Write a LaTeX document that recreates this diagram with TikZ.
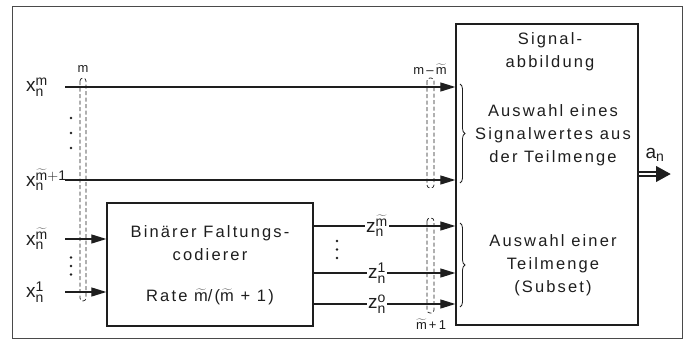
\documentclass[tikz,border=0pt]{standalone}
\usepackage{fontspec}
\setmainfont{Liberation Sans}
\newfontfamily\spacedfont{Liberation Sans}[LetterSpace=13]
\DeclareMathSizes{19}{19}{14}{10}
\usetikzlibrary{arrows.meta,positioning,calc,decorations.pathreplacing}
\definecolor{PrintInk}{HTML}{1E1E1E}
\definecolor{FrameGray}{HTML}{4A4A4A}
\newcommand{\mtl}{\ensuremath{\widetilde{\mathrm{m}}}}

\begin{document}
\begin{tikzpicture}[x=1pt, y=-1pt,
  block/.style={draw=PrintInk, line width=1.3pt, inner sep=0pt},
  txt/.style={align=center, text=PrintInk, inner sep=0pt,
    font=\spacedfont\fontsize{16.5}{23}\selectfont},
  varlabel/.style={text=PrintInk, inner sep=1pt, font=\fontsize{19}{19}\selectfont},
  countlabel/.style={text=PrintInk, inner sep=0pt, font=\fontsize{13}{13}\selectfont},
  sigline/.style={draw=PrintInk, line width=1.2pt, -{Triangle[length=15pt,width=9pt]}},
  plainline/.style={draw=PrintInk, line width=1.2pt},
  bundle/.style={draw=PrintInk, dashed, dash pattern=on 4pt off 2.5pt, line width=0.7pt, rounded corners=3pt},
  bracket/.style={draw=PrintInk, line width=0.8pt, decorate, decoration={brace, amplitude=5pt}}]

\useasboundingbox (0,0) rectangle (688,343);
% outer frame
\draw[FrameGray, line width=1pt] (12,6) rectangle (682,338);

% blocks
\node[block, minimum width=182pt, minimum height=301pt] (sig) at (547,174.5) {};
\node[block, minimum width=206pt, minimum height=123pt] (coder) at (210,264.5) {};

\node[txt] (sigtitle) at (550,52) {Signal-\\abbildung};
\node[txt] (sigsel) at (553,135) {Auswahl eines\\Signalwertes aus\\der Teilmenge};
\node[txt] (subsel) at (553,265.5) {Auswahl einer\\Teilmenge\\(Subset)};
\node[txt] (codtitle) at (210,243.5) {Binärer Faltungs-\\codierer};
\node[txt] (rate) at (210,297) {Rate \mtl/(\mtl\ + 1)};

% uncoded inputs
\coordinate (inM) at (65,87);
\coordinate (inMa) at (65,180);
\coordinate (inMt) at (65,239);
\coordinate (inOne) at (65,292);
\node[varlabel, anchor=west] (xm) at (25,87) {x$^{\mathrm{m}}_{\mathrm{n}}$};
\node[varlabel, anchor=west] (xma) at (25,180) {x$^{\mtl\mathrm{+1}}_{\mathrm{n}}$};
\node[varlabel, anchor=west] (xmt) at (25,239) {x$^{\mtl}_{\mathrm{n}}$};
\node[varlabel, anchor=west] (xone) at (25,292) {x$^{\mathrm{1}}_{\mathrm{n}}$};
\draw[sigline] (inM) -- (inM -| sig.west);
\draw[sigline] (inMa) -- (inMa -| sig.west);
\draw[sigline] (inMt) -- (inMt -| coder.west);
\draw[sigline] (inOne) -- (inOne -| coder.west);

% coded outputs
\node[varlabel] (zmt) at (377,226) {z$^{\mtl}_{\mathrm{n}}$};
\node[varlabel] (zone) at (377,273) {z$^{\mathrm{1}}_{\mathrm{n}}$};
\node[varlabel] (zzero) at (377,304) {z$^{\mathrm{o}}_{\mathrm{n}}$};
\foreach \z/\y in {zmt/226, zone/273, zzero/304}{
  \draw[plainline] (coder.east |- 0,\y) -- (\z.west |- 0,\y);
  \draw[sigline] (\z.east |- 0,\y) -- (sig.west |- 0,\y);
}

% dots
\foreach \y in {118,133,148}{\fill[PrintInk] (71,\y) circle (1.4pt);}
\foreach \y in {257.5,266,274.5}{\fill[PrintInk] (71,\y) circle (1.4pt);}
\foreach \y in {241,249.5,258}{\fill[PrintInk] (337,\y) circle (1.4pt);}

% line bundles
\draw[bundle] (80,78) rectangle (86,301);
\draw[bundle] (427,78) rectangle (434,188);
\draw[bundle] (427,218) rectangle (434,313);
\node[countlabel] (cntm) at (83,69) {m};
\node[countlabel] (cntdiff) at (430,69) {m\,--\,\mtl};
\node[countlabel] (cntcoded) at (431,324) {\mtl\,+\,1};

% braces
\draw[bracket] (460,84) -- (460,183);
\draw[bracket] (460,223) -- (460,307);

% output
\coordinate (aout) at (671,174);
\draw[PrintInk, line width=6pt, -{Triangle[length=15pt,width=15pt]}] (sig.east |- aout) -- (aout);
\draw[white, line width=2.4pt] ([xshift=0.8pt]sig.east |- aout) -- ([xshift=-15pt]aout);
\node[varlabel] (an) at (655,155) {a$_{\mathrm{n}}$};
\end{tikzpicture}
\end{document}
